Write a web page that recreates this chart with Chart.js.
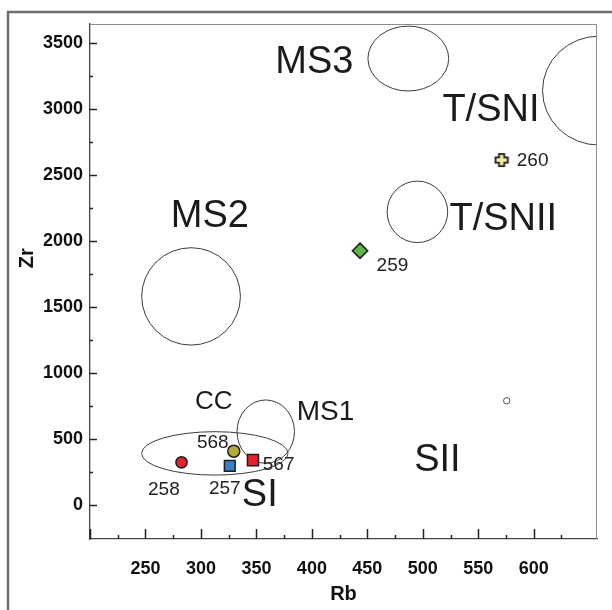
<!DOCTYPE html>
<html>
<head>
<meta charset="utf-8">
<title>Rb vs Zr</title>
<script src="https://cdn.jsdelivr.net/npm/chart.js@4.4.1/dist/chart.umd.min.js"></script>
<style>
  html, body { margin: 0; padding: 0; background: #fff; }
  #wrap { width: 612px; height: 610px; }
</style>
</head>
<body>
<div id="wrap"><canvas id="chart" width="612" height="610"></canvas></div>
<script>
// --- Samples (Rb, Zr) ---
const sampleIds = ['258', '257', '568', '567', '259', '260', ''];
const rbValues = [282.5, 326, 329.6, 346.9, 443.4, 571, 575.6];
const zrValues = [324, 298, 409, 341, 1928, 2616, 791];
// where each sample number sits
const sampleLabelRb = [266.6, 321.5, 310.7, 370, 472.6, 599, null];
const sampleLabelZr = [114, 121, 470, 303, 1812, 2613, null];

// --- Field ellipses (centre and half-axes, data units) ---
const fieldNames = ['MS3', 'T/SNI', 'T/SNII', 'MS2', 'CC', 'MS1'];
const fieldCenterRb = [486.9, 658.9, 495.1, 291.1, 312.5, 358.4];
const fieldCenterZr = [3385, 3142, 2223, 1582, 392, 557];
const fieldHalfRb = [36.4, 51, 27.3, 44.5, 66, 25.9];
const fieldHalfZr = [246, 413, 233, 369, 164.5, 240];

// --- Field names ---
const labelNames = ['MS3', 'T/SNI', 'T/SNII', 'MS2', 'CC', 'MS1', 'SII', 'SI'];
const labelRb = [402.2, 561.4, 572.5, 308, 311.6, 412.3, 513.1, 353];
const labelZr = [3354, 2994, 2168, 2186, 781, 705, 341, 76];

// --- Axes ---
const rbRange = [200, 657];
const zrRange = [-257, 3647];
const rbTickLabels = [250, 300, 350, 400, 450, 500, 550, 600];
const rbMajorTicks = [200, 250, 300, 350, 400, 450, 500, 550, 600];
const rbMinorTicks = [225, 275, 325, 375, 425, 475, 525, 575, 625];
const zrTickLabels = [0, 500, 1000, 1500, 2000, 2500, 3000, 3500];
const zrMinorTicks = [250, 750, 1250, 1750, 2250, 2750, 3250];

const AXIS_FONT = "'Liberation Sans', 'DejaVu Sans', sans-serif";
// 'condensed' rides along in the weight slot so Chart.js puts it in the font string
const AXIS_WEIGHT = 'bold condensed';
const TEXT_FONT = "'Liberation Sans', Arial, sans-serif";
// big field names vs the two smaller ones
const labelSize = { CC: 26, MS1: 28 };

/** Filled plus marker used for sample 260 */
function makePlus() {
  const c = document.createElement('canvas');
  c.width = 16;
  c.height = 16;
  const g = c.getContext('2d');
  const m = 8, a = 2.6, b = 6.2;
  g.beginPath();
  g.moveTo(m - a, m - b); g.lineTo(m + a, m - b); g.lineTo(m + a, m - a); g.lineTo(m + b, m - a);
  g.lineTo(m + b, m + a); g.lineTo(m + a, m + a); g.lineTo(m + a, m + b); g.lineTo(m - a, m + b);
  g.lineTo(m - a, m + a); g.lineTo(m - b, m + a); g.lineTo(m - b, m - a); g.lineTo(m - a, m - a);
  g.closePath();
  g.fillStyle = '#f2eaa6';
  g.fill();
  g.lineWidth = 1.8;
  g.strokeStyle = '#1e1e1e';
  g.stroke();
  return c;
}

const overlayPlugin = {
  id: 'overlay',
  beforeDraw(chart) {
    // outer frame (top + left only, as in the figure)
    const { ctx } = chart;
    ctx.save();
    ctx.strokeStyle = '#6e6e6e';
    ctx.lineWidth = 2.5;
    ctx.beginPath();
    ctx.moveTo(8, 612);
    ctx.lineTo(8, 12);
    ctx.lineTo(614, 12);
    ctx.stroke();
    ctx.restore();
  },
  beforeDatasetsDraw(chart) {
    const { ctx, chartArea: area, scales: { x, y } } = chart;

    // --- field ellipses, clipped to the plot ---
    ctx.save();
    ctx.beginPath();
    ctx.rect(area.left, area.top, area.right - area.left, area.bottom - area.top);
    ctx.clip();
    ctx.strokeStyle = '#3c3c3c';
    ctx.lineWidth = 1;
    fieldNames.forEach((name, i) => {
      const cx = x.getPixelForValue(fieldCenterRb[i]);
      const cy = y.getPixelForValue(fieldCenterZr[i]);
      const rx = Math.abs(x.getPixelForValue(fieldCenterRb[i] + fieldHalfRb[i]) - cx);
      const ry = Math.abs(y.getPixelForValue(fieldCenterZr[i] + fieldHalfZr[i]) - cy);
      ctx.beginPath();
      ctx.ellipse(cx, cy, rx, ry, 0, 0, Math.PI * 2);
      ctx.stroke();
    });
    ctx.restore();

    // --- top / right frame of the plot ---
    ctx.save();
    ctx.strokeStyle = '#8c8c8c';
    ctx.lineWidth = 1;
    ctx.beginPath();
    ctx.moveTo(area.left, area.top + 0.5);
    ctx.lineTo(area.right - 0.5, area.top + 0.5);
    ctx.lineTo(area.right - 0.5, area.bottom);
    ctx.stroke();
    ctx.restore();

    // --- inward tick marks ---
    ctx.save();
    ctx.strokeStyle = '#222';
    ctx.lineWidth = 1.5;
    const tick = (x0, y0, x1, y1) => {
      ctx.beginPath();
      ctx.moveTo(x0, y0);
      ctx.lineTo(x1, y1);
      ctx.stroke();
    };
    rbMajorTicks.forEach((v) => {
      const px = Math.round(x.getPixelForValue(v)) + 0.5;
      tick(px, area.bottom, px, area.bottom - 10);
    });
    rbMinorTicks.forEach((v) => {
      const px = Math.round(x.getPixelForValue(v)) + 0.5;
      tick(px, area.bottom, px, area.bottom - 4);
    });
    zrTickLabels.forEach((v) => {
      const py = Math.round(y.getPixelForValue(v)) + 0.5;
      tick(area.left, py, area.left + 7, py);
    });
    zrMinorTicks.forEach((v) => {
      const py = Math.round(y.getPixelForValue(v)) + 0.5;
      tick(area.left, py, area.left + 3, py);
    });
    ctx.restore();

    // --- field names ---
    ctx.save();
    ctx.fillStyle = '#1b1b1b';
    ctx.textAlign = 'center';
    ctx.textBaseline = 'middle';
    labelNames.forEach((name, i) => {
      ctx.font = `${labelSize[name] || 38}px ${TEXT_FONT}`;
      ctx.fillText(name, x.getPixelForValue(labelRb[i]), y.getPixelForValue(labelZr[i]));
    });

    // --- sample numbers ---
    ctx.font = `19px ${TEXT_FONT}`;
    ctx.fillStyle = '#222';
    sampleIds.forEach((id, i) => {
      if (!id || sampleLabelRb[i] === null) return;
      ctx.fillText(id, x.getPixelForValue(sampleLabelRb[i]), y.getPixelForValue(sampleLabelZr[i]));
    });

    // --- y axis title, drawn by hand to sit a little above centre ---
    ctx.font = `${AXIS_WEIGHT} 20px ${AXIS_FONT}`;
    ctx.fillStyle = '#111';
    ctx.translate(27, area.top + (area.bottom - area.top) * 0.455);
    ctx.rotate(-Math.PI / 2);
    ctx.fillText('Zr', 0, 0);
    ctx.restore();
  },
};

const points = rbValues.map((rb, i) => ({ x: rb, y: zrValues[i] }));

new Chart(document.getElementById('chart'), {
  type: 'scatter',
  data: {
    datasets: [
      {
        label: 'Samples',
        data: points,
        pointStyle: ['circle', 'rect', 'circle', 'rect', 'rectRot', makePlus(), 'circle'],
        pointRadius: [5.6, 7.6, 6, 7.8, 7.6, 8, 3.2],
        backgroundColor: ['#e5222b', '#3b7fc8', '#b6aa38', '#e5222b', '#5bb746', '#f2eaa6', '#ffffff'],
        borderColor: ['#1e1e1e', '#1e1e1e', '#1e1e1e', '#1e1e1e', '#1e1e1e', '#1e1e1e', '#555555'],
        borderWidth: [1.5, 1.5, 1.5, 1.5, 1.6, 1, 1],
      },
    ],
  },
  options: {
    responsive: false,
    animation: false,
    layout: { padding: { left: 0, right: 15, top: 24, bottom: 0 } },
    plugins: {
      legend: { display: false },
      tooltip: { enabled: false },
    },
    scales: {
      x: {
        type: 'linear',
        min: rbRange[0],
        max: rbRange[1],
        afterBuildTicks: (s) => { s.ticks = rbTickLabels.map((v) => ({ value: v })); },
        afterFit: (s) => { s.height = 71; },
        grid: { display: false, drawTicks: false },
        border: { display: true, color: '#444', width: 1.3 },
        ticks: {
          padding: 19,
          color: '#111',
          maxRotation: 0,
          callback: (v) => String(v),
          font: { family: AXIS_FONT, size: 18, weight: AXIS_WEIGHT },
        },
        title: {
          display: true,
          text: 'Rb',
          color: '#111',
          padding: { top: 0, bottom: 4 },
          font: { family: AXIS_FONT, size: 20, weight: AXIS_WEIGHT },
        },
      },
      y: {
        type: 'linear',
        min: zrRange[0],
        max: zrRange[1],
        afterBuildTicks: (s) => { s.ticks = zrTickLabels.map((v) => ({ value: v })); },
        afterFit: (s) => { s.width = 90; },
        grid: { display: false, drawTicks: false },
        border: { display: true, color: '#444', width: 1.3 },
        ticks: {
          padding: 7,
          color: '#111',
          callback: (v) => String(v),
          font: { family: AXIS_FONT, size: 18, weight: AXIS_WEIGHT },
        },
      },
    },
  },
  plugins: [overlayPlugin],
});
</script>
</body>
</html>
